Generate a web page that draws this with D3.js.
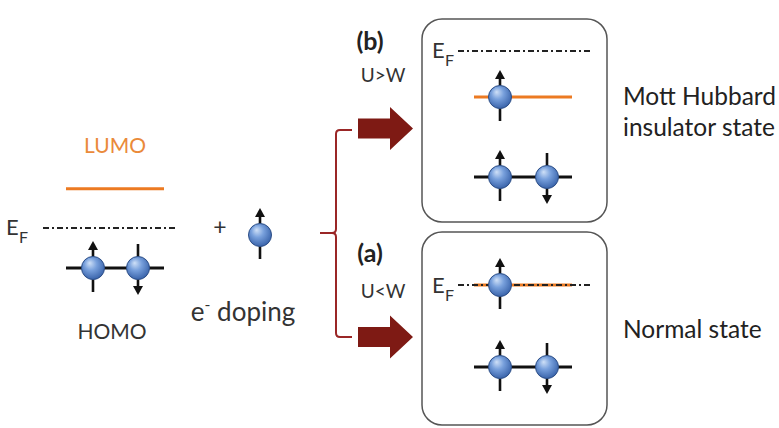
<!DOCTYPE html>
<html>
<head>
<meta charset="utf-8">
<script src="https://cdn.jsdelivr.net/npm/d3@7"></script>
<style>
  html, body { margin: 0; padding: 0; background: #fff; }
  svg text { font-family: Lato, "Open Sans", sans-serif; }
</style>
</head>
<body>
<svg id="fig" width="779" height="428"></svg>
<script>
// Energy levels (in units of level spacing, Fermi level = 0) and their electrons.
const isolatedLevels = [
  { name: "LUMO", energy: 0.98, kind: "empty" },
  { name: "HOMO", energy: -1.0, kind: "filled", spins: ["up", "down"] }
];
const dopingSpins = ["up"];
const panelNames = ["(b)", "(a)"];
const panelConditions = ["U>W", "U<W"];
const panelStates = [["Mott Hubbard", "insulator state"], ["Normal state"]];
const panelLevels = [
  [ { energy: -1.15, kind: "single", spins: ["up"] },
    { energy: -3.15, kind: "filled", spins: ["up", "down"] } ],
  [ { energy: 0.0, kind: "single", spins: ["up"] },
    { energy: -2.05, kind: "filled", spins: ["up", "down"] } ]
];

const svg = d3.select("#fig");
const orange = "#ec7a22";
const darkRed = "#7e1a14";
const ink = "#333";

const defs = svg.append("defs");
const grad = defs.append("radialGradient").attr("id", "ball")
  .attr("cx", "45%").attr("cy", "40%").attr("r", "60%")
  .attr("fx", "35%").attr("fy", "28%");
grad.append("stop").attr("offset", "0%").attr("stop-color", "#cfe0f7");
grad.append("stop").attr("offset", "45%").attr("stop-color", "#78a0dc");
grad.append("stop").attr("offset", "100%").attr("stop-color", "#3a64ab");

// energy -> y for one column of the diagram
function energyScale(yFermi) {
  return d3.scaleLinear().domain([0, -1]).range([yFermi, yFermi + 40]);
}

function arrowHead(g, x, yTip, dir) {
  const h = 9, w = 5;
  g.append("path")
    .attr("d", `M${x},${yTip} L${x - w},${yTip - dir * h} L${x + w},${yTip - dir * h} Z`)
    .attr("fill", "#111");
}

// one electron: a shaded ball with its spin arrow
function electron(g, x, y, spin) {
  const dir = spin === "up" ? -1 : 1;
  const tipY = y + dir * 27, tailY = y - dir * 24;
  g.append("line").attr("x1", x).attr("x2", x)
    .attr("y1", tailY).attr("y2", tipY - dir * 6)
    .attr("stroke", "#111").attr("stroke-width", 2.6);
  arrowHead(g, x, tipY, dir);
  g.append("circle").attr("cx", x).attr("cy", y).attr("r", 11.5)
    .attr("fill", "url(#ball)").attr("stroke", "#2d4e86").attr("stroke-width", 1);
}

function level(g, x0, x1, y, color, width) {
  g.append("line").attr("x1", x0).attr("x2", x1).attr("y1", y).attr("y2", y)
    .attr("stroke", color).attr("stroke-width", width);
}

function fermi(g, xE, x0, x1, y, baseY) {
  g.append("text").attr("x", xE).attr("y", baseY)
    .attr("font-size", 22).attr("fill", ink).text("E");
  g.append("text").attr("x", xE + 13).attr("y", baseY + 8)
    .attr("font-size", 16).attr("fill", ink).text("F");
  return () => g.append("line").attr("x1", x0).attr("x2", x1).attr("y1", y).attr("y2", y)
    .attr("stroke", "#222").attr("stroke-width", 2)
    .attr("stroke-dasharray", "6,3,2,3");
}

// ---- isolated molecule (left)
const left = svg.append("g");
const yL = energyScale(228);
const drawLeftFermi = fermi(left, 6, 43, 178, yL(0), 235);
isolatedLevels.forEach(lv => {
  const y = yL(lv.energy);
  if (lv.kind === "empty") {
    level(left, 66, 164, y, orange, 3);
    left.append("text").attr("x", 115).attr("y", 153).attr("text-anchor", "middle")
      .attr("font-size", 21).attr("fill", "#ea8a3a").text(lv.name);
  } else {
    level(left, 66, 164, y, "#111", 3);
    const xs = d3.scalePoint().domain(d3.range(lv.spins.length)).range([93, 138]);
    lv.spins.forEach((s, i) => electron(left, xs(i), y, s));
    left.append("text").attr("x", 112).attr("y", 339).attr("text-anchor", "middle")
      .attr("font-size", 21).attr("fill", ink).text(lv.name);
  }
});
drawLeftFermi();

// ---- added electron
left.append("text").attr("x", 220).attr("y", 235).attr("text-anchor", "middle")
  .attr("font-size", 23).attr("fill", ink).text("+");
dopingSpins.forEach(s => electron(left, 260, 235, s));
const dop = left.append("text").attr("x", 243).attr("y", 321).attr("text-anchor", "middle")
  .attr("font-size", 26).attr("fill", ink);
dop.append("tspan").text("e");
dop.append("tspan").attr("font-size", 16).attr("dy", -11).text("-");
dop.append("tspan").attr("dy", 11).text(" doping");

// ---- brace splitting into the two cases
svg.append("path")
  .attr("d", "M352,130 L340,130 Q336,130 336,134 L336,229 Q336,233 332,233 L320,233 M332,233 Q336,233 336,237 L336,333 Q336,337 340,337 L352,337")
  .attr("fill", "none").attr("stroke", "#9a2626").attr("stroke-width", 2);

// ---- big arrows
function bigArrow(yc) {
  svg.append("path")
    .attr("d", `M358,${yc - 10} L390,${yc - 10} L390,${yc - 21.5} L413,${yc} L390,${yc + 21.5} L390,${yc + 10} L358,${yc + 10} Z`)
    .attr("fill", darkRed);
}
bigArrow(128.5);
bigArrow(337);

// ---- the two doped cases
const boxes = [
  { top: 19, bottom: 222, yFermi: 51, eBase: 58, nameY: 50, condY: 82, stateY: 105 },
  { top: 232, bottom: 425, yFermi: 285, eBase: 293, nameY: 262, condY: 298, stateY: 338 }
];
boxes.forEach((b, k) => {
  const g = svg.append("g");
  g.append("rect").attr("x", 422).attr("y", b.top).attr("width", 185)
    .attr("height", b.bottom - b.top).attr("rx", 20)
    .attr("fill", "none").attr("stroke", "#555").attr("stroke-width", 1.5);
  g.append("text").attr("x", 370).attr("y", b.nameY).attr("text-anchor", "middle")
    .attr("font-size", 25).attr("font-weight", "bold").attr("fill", "#222").text(panelNames[k]);
  g.append("text").attr("x", 383).attr("y", b.condY).attr("text-anchor", "middle")
    .attr("font-size", 19).attr("fill", ink).text(panelConditions[k]);
  panelStates[k].forEach((t, i) => {
    g.append("text").attr("x", 623).attr("y", b.stateY + i * 31)
      .attr("font-size", 24.5).attr("fill", "#222").text(t);
  });
  const y = energyScale(b.yFermi);
  const drawFermi = fermi(g, 432, 458, 592, y(0), b.eBase);
  panelLevels[k].forEach(lv => {
    const yy = y(lv.energy);
    level(g, 474, 572, yy, lv.kind === "single" ? orange : "#111", lv.kind === "single" ? 3.2 : 3);
    if (lv.kind === "single") drawFermi();
    const xs = d3.scalePoint().domain(d3.range(2)).range([500, 547]);
    lv.spins.forEach((s, i) => electron(g, xs(i), yy, s));
  });
});
</script>
</body>
</html>
